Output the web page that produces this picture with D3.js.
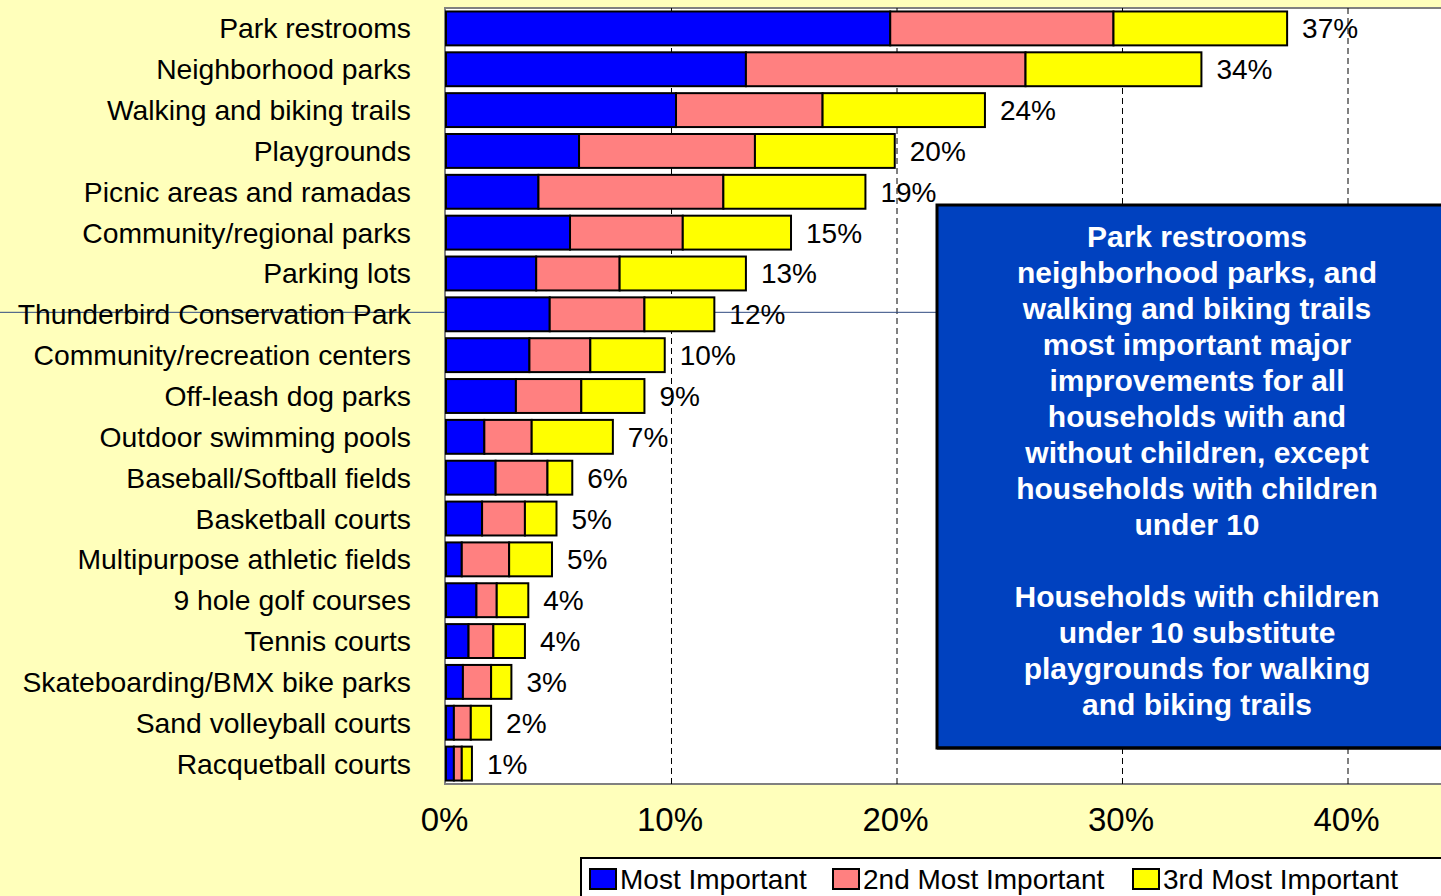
<!DOCTYPE html>
<html>
<head>
<meta charset="utf-8">
<script src="https://cdn.jsdelivr.net/npm/d3@7"></script>
<style>
  body { margin: 0; background: #FFFFBB; overflow: hidden; }
  text { font-family: "Liberation Sans", Arial, sans-serif; }
</style>
</head>
<body>
<div id="chart"></div>
<script>
// categories top to bottom
var categories = ["Park restrooms", "Neighborhood parks", "Walking and biking trails", "Playgrounds",
  "Picnic areas and ramadas", "Community/regional parks", "Parking lots", "Thunderbird Conservation Park",
  "Community/recreation centers", "Off-leash dog parks", "Outdoor swimming pools", "Baseball/Softball fields",
  "Basketball courts", "Multipurpose athletic fields", "9 hole golf courses", "Tennis courts",
  "Skateboarding/BMX bike parks", "Sand volleyball courts", "Racquetball courts"];

// percent values per series
var mostImportant = [19.7, 13.3, 10.2, 5.9, 4.1, 5.5, 4.0, 4.6, 3.7, 3.1, 1.7, 2.2, 1.6, 0.7, 1.35, 1.0, 0.75, 0.35, 0.35];
var secondImportant = [9.9, 12.4, 6.5, 7.8, 8.2, 5.0, 3.7, 4.2, 2.7, 2.9, 2.1, 2.3, 1.9, 2.1, 0.9, 1.1, 1.25, 0.75, 0.35];
var thirdImportant = [7.7, 7.8, 7.2, 6.2, 6.3, 4.8, 5.6, 3.1, 3.3, 2.8, 3.6, 1.1, 1.4, 1.9, 1.4, 1.4, 0.9, 0.9, 0.45];
var totalLabels = ["37%", "34%", "24%", "20%", "19%", "15%", "13%", "12%", "10%", "9%", "7%", "6%", "5%", "5%", "4%", "4%", "3%", "2%", "1%"];

var seriesNames = ["Most Important", "2nd Most Important", "3rd Most Important"];
var seriesColors = ["#0000FF", "#FF8080", "#FFFF00"];
var xTicks = [0, 10, 20, 30, 40];

var noteLines = ["Park restrooms", "neighborhood parks, and", "walking and biking trails",
  "most important major", "improvements for all", "households with and", "without children, except",
  "households with children", "under 10", "", "Households with children", "under 10 substitute",
  "playgrounds for walking", "and biking trails"];

var W = 1441, H = 896;
var svg = d3.select("#chart").append("svg").attr("width", W).attr("height", H);

var plot = {left: 446, top: 8, bottom: 784};

var x = d3.scaleLinear().domain([0, 40]).range([446, 1348]);
var y = d3.scaleBand().domain(categories).range([plot.top, plot.bottom]).paddingInner(0.17).paddingOuter(0.085);

// plot area
svg.append("rect").attr("x", plot.left - 1).attr("y", plot.top)
  .attr("width", W + 10 - plot.left).attr("height", plot.bottom - plot.top)
  .style("fill", "#fff").style("stroke", "#808080").style("stroke-width", 2);

// dashed gridlines
svg.append("g").selectAll("line").data(xTicks.slice(1)).enter().append("line")
  .attr("x1", function(d) { return x(d); }).attr("x2", function(d) { return x(d); })
  .attr("y1", plot.top).attr("y2", plot.bottom)
  .style("stroke", "#000").style("stroke-width", 1).style("stroke-dasharray", "6,4");

// stray thin line through the Thunderbird row
svg.append("line").attr("x1", 0).attr("x2", 936)
  .attr("y1", y(categories[7]) + y.bandwidth() / 2 - 2).attr("y2", y(categories[7]) + y.bandwidth() / 2 - 2)
  .style("stroke", "#2F4A80").style("stroke-width", 1);

// stacked data
var rows = categories.map(function(c, i) {
  return {cat: c, vals: [mostImportant[i], secondImportant[i], thirdImportant[i]], label: totalLabels[i]};
});

var barG = svg.append("g");
rows.forEach(function(r) {
  var acc = 0;
  r.vals.forEach(function(v, k) {
    barG.append("rect")
      .attr("x", x(acc)).attr("y", y(r.cat))
      .attr("width", x(acc + v) - x(acc)).attr("height", y.bandwidth())
      .style("fill", seriesColors[k]).style("stroke", "#000").style("stroke-width", 2);
    acc += v;
  });
  r.total = acc;
});

// total labels
svg.append("g").selectAll("text").data(rows).enter().append("text")
  .attr("x", function(d) { return x(d.total) + 15; })
  .attr("y", function(d) { return y(d.cat) + y.bandwidth() / 2 + 10; })
  .style("font-size", "28px").style("fill", "#000")
  .text(function(d) { return d.label; });

// category labels
svg.append("g").selectAll("text").data(categories).enter().append("text")
  .attr("x", 411)
  .attr("y", function(d) { return y(d) + y.bandwidth() / 2 + 10; })
  .attr("text-anchor", "end")
  .style("font-size", "28.3px").style("fill", "#000")
  .text(function(d) { return d; });

// x axis labels
var xAxis = d3.axisBottom(x).tickValues(xTicks).tickSize(0).tickPadding(0)
  .tickFormat(function(d) { return d + "%"; });
var ax = svg.append("g").attr("transform", "translate(-2," + 808 + ")").call(xAxis);
ax.select(".domain").remove();
ax.selectAll("text").style("font-size", "33px").style("font-family", "'Liberation Sans', Arial, sans-serif")
  .attr("dy", "0.71em").style("fill", "#000");

// note box
var box = svg.append("g");
box.append("rect").attr("x", 937).attr("y", 205).attr("width", 520).attr("height", 543)
  .style("fill", "#0041BF").style("stroke", "#000").style("stroke-width", 3);
box.append("line").attr("x1", 937).attr("x2", 1450).attr("y1", 748).attr("y2", 748)
  .style("stroke", "#000").style("stroke-width", 3);
box.selectAll("text").data(noteLines).enter().append("text")
  .attr("x", 1197).attr("y", function(d, i) { return 247 + i * 36; })
  .attr("text-anchor", "middle")
  .style("font-size", "30px").style("font-weight", "bold").style("fill", "#fff")
  .text(function(d) { return d; });

// legend
var leg = svg.append("g");
leg.append("rect").attr("x", 581).attr("y", 858).attr("width", 900).attr("height", 60)
  .style("fill", "#fff").style("stroke", "#000").style("stroke-width", 2);
var legX = [590, 833, 1133];
seriesNames.forEach(function(n, i) {
  leg.append("rect").attr("x", legX[i]).attr("y", 869).attr("width", 26).attr("height", 20)
    .style("fill", seriesColors[i]).style("stroke", "#000").style("stroke-width", 2);
  leg.append("text").attr("x", legX[i] + 30).attr("y", 889)
    .style("font-size", "28px").style("fill", "#000").text(n);
});
</script>
</body>
</html>
